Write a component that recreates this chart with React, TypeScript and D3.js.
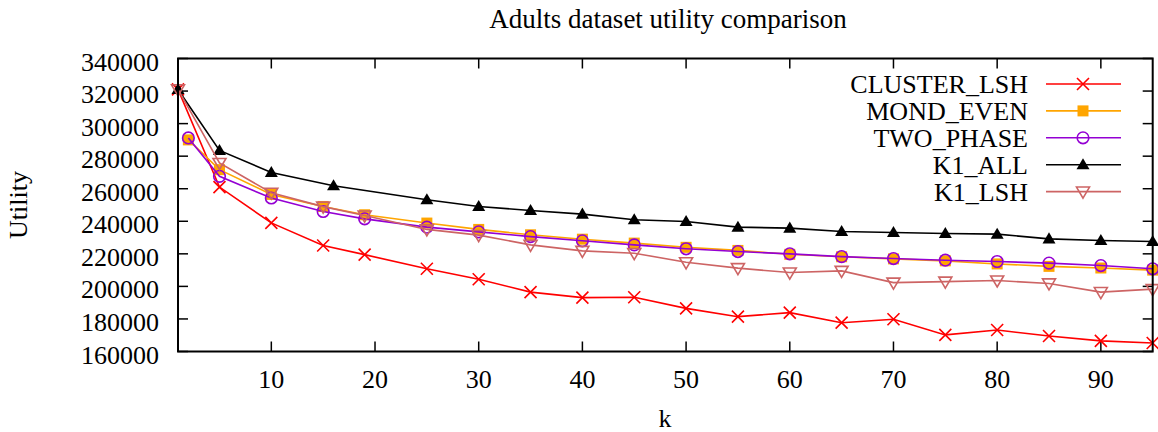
import React from "react";
import * as d3 from "d3";

const kMain = [1, 5, 10, 15, 19, 25, 30, 35, 40, 45, 50, 55, 60, 65, 70, 75, 80, 85, 90, 95];
const kTwo = [2, 5, 10, 15, 19, 25, 30, 35, 40, 45, 50, 55, 60, 65, 70, 75, 80, 85, 90, 95];
const kAll = [1, 5, 10, 16, 25, 30, 35, 40, 45, 50, 55, 60, 65, 70, 75, 80, 85, 90, 95];

const clusterLsh = [321000, 261000, 239000, 225100, 219500, 210800, 204400, 196500, 193100, 193300, 186500, 181400, 183900, 177700, 179800, 170200, 173200, 169500, 166500, 165200];
const mondEven = [290000, 271700, 256500, 249100, 244000, 238900, 235000, 231700, 229000, 226600, 224000, 222100, 219700, 218200, 216900, 215700, 213800, 212300, 211300, 210000];
const twoPhase = [291200, 267600, 254300, 246000, 241500, 236400, 233500, 230600, 228000, 225500, 223100, 221400, 220000, 218300, 217100, 216100, 215300, 214300, 212800, 210800];
const k1All = [321000, 283500, 270000, 261800, 253200, 249100, 246600, 244400, 240900, 239900, 236400, 235800, 233700, 233100, 232500, 232100, 229200, 228200, 227600];
const k1Lsh = [321000, 275800, 257500, 249000, 243500, 235000, 231500, 225500, 221800, 220400, 214800, 211200, 208500, 209500, 202300, 202900, 203600, 201800, 196500, 198300];

const seriesNames = ["CLUSTER_LSH", "MOND_EVEN", "TWO_PHASE", "K1_ALL", "K1_LSH"];
const seriesColors = ["#ff0000", "#ffa500", "#9400d3", "#000000", "#cd6464"];
const seriesMarkers = ["cross", "square", "circle", "triangle", "invtriangle"];
const seriesK = [kMain, kTwo, kTwo, kAll, kMain];
const seriesV = [clusterLsh, mondEven, twoPhase, k1All, k1Lsh];

const xTicks = [10, 20, 30, 40, 50, 60, 70, 80, 90];
const yTicks = [160000, 180000, 200000, 220000, 240000, 260000, 280000, 300000, 320000, 340000];

const W = 1158;
const H = 432;
const L = 178, R = 1152.7, T = 58.5, B = 351.5;
const FONT = "Liberation Serif";

function Marker({ type, x, y, color }: { type: string; x: number; y: number; color: string }) {
  const sw = 1.6;
  if (type === "cross") {
    const s = 6;
    return (
      <path d={`M${x - s},${y - s}L${x + s},${y + s}M${x - s},${y + s}L${x + s},${y - s}`} stroke={color} strokeWidth={sw} fill="none" />
    );
  }
  if (type === "square") {
    const s = 5.5;
    return <rect x={x - s} y={y - s} width={2 * s} height={2 * s} fill={color} />;
  }
  if (type === "circle") {
    return <circle cx={x} cy={y} r={5.8} fill="none" stroke={color} strokeWidth={sw} />;
  }
  if (type === "triangle") {
    const s = 6.5;
    return <path d={`M${x},${y - s}L${x + s},${y + s * 0.7}L${x - s},${y + s * 0.7}Z`} fill={color} />;
  }
  const s = 6.5;
  return <path d={`M${x},${y + s}L${x + s},${y - s * 0.7}L${x - s},${y - s * 0.7}Z`} fill="none" stroke={color} strokeWidth={sw} />;
}

export default function App() {
  const x = d3.scaleLinear().domain([1, 95]).range([L, R]);
  const y = d3.scaleLinear().domain([160000, 340000]).range([B, T]);
  const line = d3.line<[number, number]>().x((d) => x(d[0])).y((d) => y(d[1]));

  const legendRowY = (i: number) => 84 + i * 26.9;

  return (
    <svg width={W} height={H} style={{ position: "absolute", left: 0, top: 0, background: "#fff" }}>
      <rect x={0} y={0} width={W} height={H} fill="#fff" />
      <text x={668} y={28} fontSize={27} fontFamily={FONT} textAnchor="middle">Adults dataset utility comparison</text>

      {yTicks.map((t) => (
        <g key={"y" + t}>
          <line x1={L} x2={L + 10} y1={y(t)} y2={y(t)} stroke="#000" strokeWidth={1.5} />
          <line x1={R} x2={R - 10} y1={y(t)} y2={y(t)} stroke="#000" strokeWidth={1.5} />
          <text x={159} y={y(t) + 12} fontSize={26} fontFamily={FONT} textAnchor="end">{t}</text>
        </g>
      ))}
      {xTicks.map((t) => (
        <g key={"x" + t}>
          <line x1={x(t)} x2={x(t)} y1={B} y2={B - 10} stroke="#000" strokeWidth={1.5} />
          <line x1={x(t)} x2={x(t)} y1={T} y2={T + 10} stroke="#000" strokeWidth={1.5} />
          <text x={x(t)} y={388} fontSize={26} fontFamily={FONT} textAnchor="middle">{t}</text>
        </g>
      ))}
      <text x={665} y={427} fontSize={26} fontFamily={FONT} textAnchor="middle">k</text>
      <text transform="translate(27,205) rotate(-90)" fontSize={26} fontFamily={FONT} textAnchor="middle">Utility</text>

      {seriesNames.map((name, i) => {
        const pts: [number, number][] = seriesK[i].map((k, j) => [k, seriesV[i][j]]);
        return (
          <g key={name}>
            <path d={line(pts) || ""} fill="none" stroke={seriesColors[i]} strokeWidth={1.6} />
            {pts.map((p, j) => (
              <Marker key={j} type={seriesMarkers[i]} x={x(p[0])} y={y(p[1])} color={seriesColors[i]} />
            ))}
          </g>
        );
      })}

      {seriesNames.map((name, i) => (
        <g key={"lg" + name}>
          <text x={1028} y={legendRowY(i) + 9} fontSize={26} fontFamily={FONT} textAnchor="end">{name}</text>
          <line x1={1046} x2={1121} y1={legendRowY(i)} y2={legendRowY(i)} stroke={seriesColors[i]} strokeWidth={1.6} />
          <Marker type={seriesMarkers[i]} x={1083} y={legendRowY(i)} color={seriesColors[i]} />
        </g>
      ))}

      <rect x={L} y={T} width={R - L} height={B - T} fill="none" stroke="#000" strokeWidth={2} />
    </svg>
  );
}
